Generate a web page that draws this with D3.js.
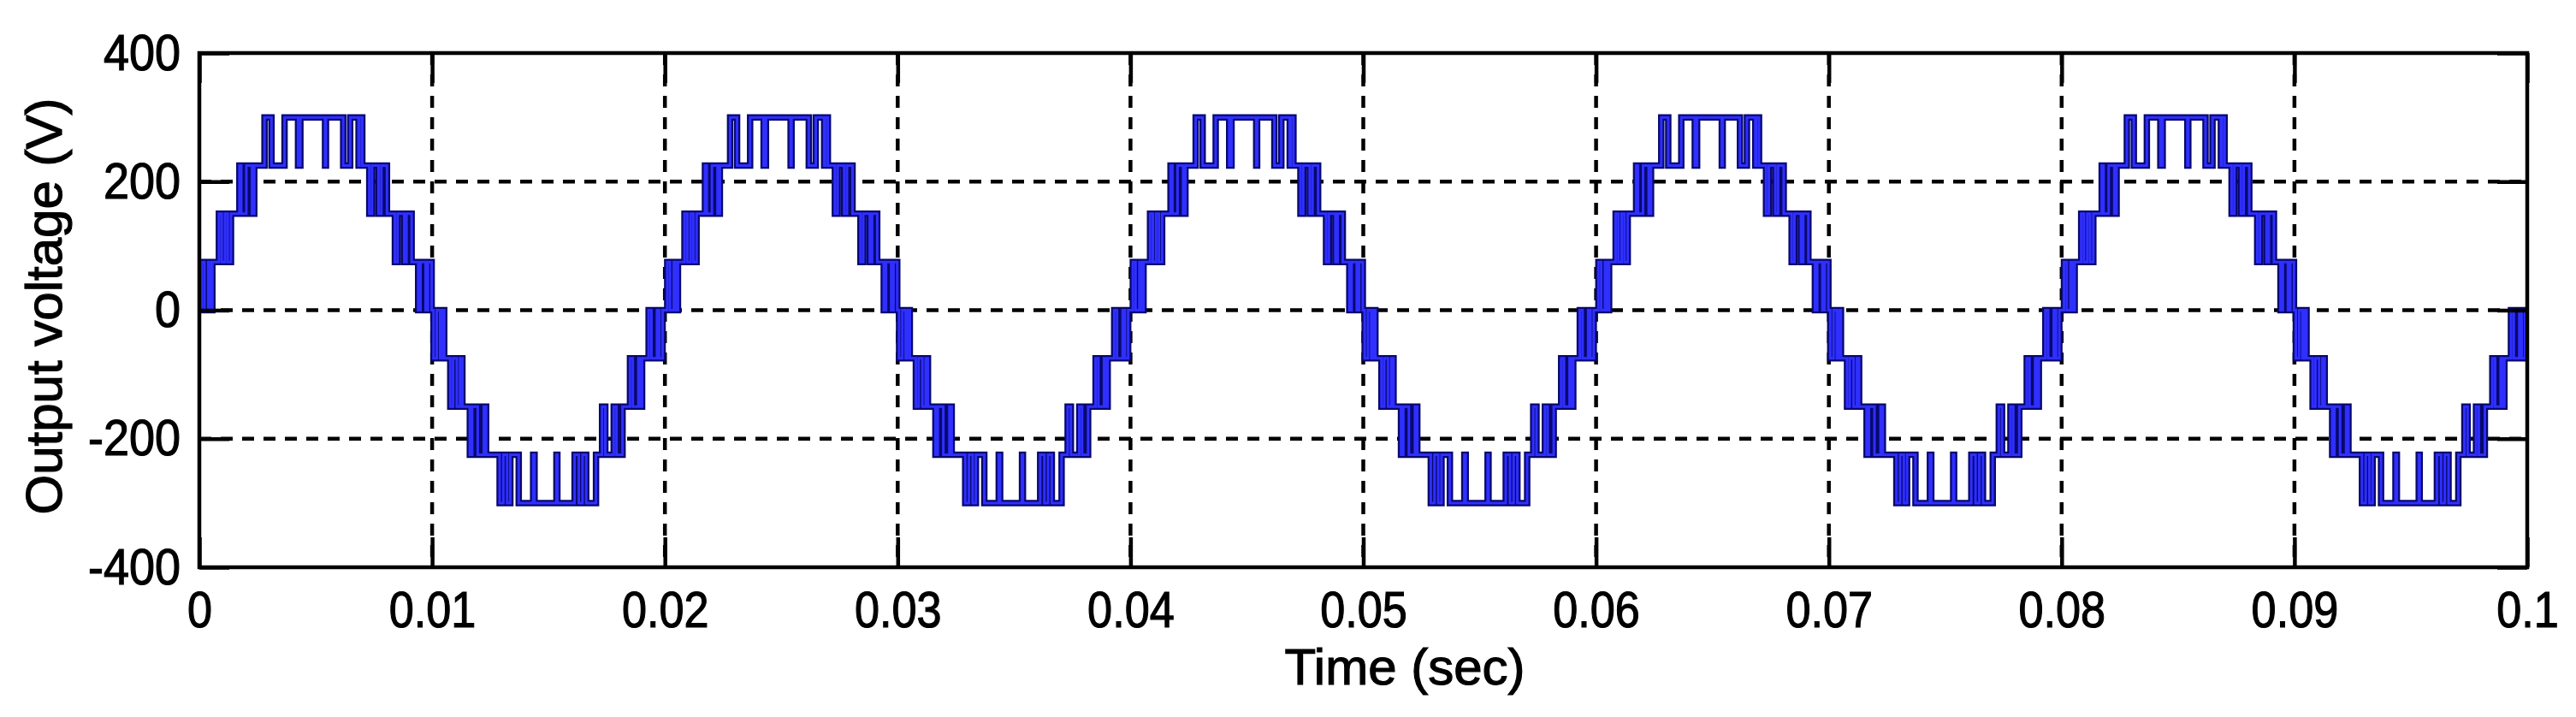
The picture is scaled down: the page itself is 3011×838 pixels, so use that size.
<!DOCTYPE html>
<html>
<head>
<meta charset="utf-8">
<script src="https://cdn.jsdelivr.net/npm/d3@7"></script>
<style>
  html, body { margin: 0; padding: 0; background: #ffffff; }
  svg { display: block; }
</style>
</head>
<body>
<svg id="chart" width="3011" height="838"></svg>
<script>
// ---------------- DATA ----------------
const xTicks = [0, 0.01, 0.02, 0.03, 0.04, 0.05, 0.06, 0.07, 0.08, 0.09, 0.1];
const xTickLabels = ["0", "0.01", "0.02", "0.03", "0.04", "0.05", "0.06", "0.07", "0.08", "0.09", "0.1"];
const yTicks = [-400, -200, 0, 200, 400];
const yTickLabels = ["-400", "-200", "0", "200", "400"];
const xTitle = "Time (sec)";
const yTitle = "Output voltage (V)";

const period = 0.02;   // one fundamental cycle (s)
const cycles = 5;

// switching instants (ms from start of positive half) and level after each edge
const posHalfTimes  = [0.00, 0.10, 0.22, 0.38, 0.48, 0.56, 0.84, 0.96, 1.10, 1.22, 1.36,
                       1.72, 1.80, 2.02, 2.26, 2.36, 2.80, 3.10, 3.66, 4.24, 4.34, 5.40,
                       5.44, 6.18, 6.48, 6.84, 6.88, 7.00, 7.30, 7.42, 7.70, 7.82, 8.06,
                       8.40, 8.52, 8.80, 8.90, 9.12, 9.40, 9.50, 9.72, 9.82, 9.98];
const posHalfLevels = [0, 75, 0, 75, 0, 75, 150, 75, 150, 75, 150,
                       225, 150, 225, 150, 225, 300, 225, 300, 225, 300, 225,
                       300, 225, 300, 225, 300, 225, 150, 225, 150, 225, 150,
                       75, 150, 75, 150, 75, 0, 75, 0, 75, 0];
// switching instants (ms from start of negative half) and level after each edge
const negHalfTimes  = [0.00, 0.06, 0.20, 0.34, 0.44, 0.52, 0.78, 0.90, 1.06, 1.20, 1.30,
                       1.62, 1.72, 1.96, 2.22, 2.32, 2.90, 3.06, 3.22, 3.36, 3.72, 4.34,
                       4.40, 5.34, 5.38, 6.12, 6.30, 6.46, 6.62, 7.04, 7.30, 7.44, 7.80,
                       7.92, 8.18, 8.50, 8.62, 8.86, 8.94, 9.02, 9.30, 9.42, 9.66, 9.76, 9.90];
const negHalfLevels = [0, -75, 0, -75, 0, -75, -150, -75, -150, -75, -150,
                       -225, -150, -225, -150, -225, -300, -225, -300, -225, -300, -225,
                       -300, -225, -300, -225, -300, -225, -300, -225, -150, -225, -150,
                       -225, -150, -75, -150, -75, -150, -75, 0, -75, 0, -75, 0];

// ---------------- LAYOUT ----------------
const svg = d3.select("#chart");
const L = 233, R = 2954, T = 62, B = 663;
const x = d3.scaleLinear().domain([0, 0.1]).range([L, R]);
const y = d3.scaleLinear().domain([-400, 400]).range([B, T]);
const FONT = "'Liberation Sans', Arial, Helvetica, sans-serif";

// waveform points (one period tiled over the record)
const pts = [];
for (let c = 0; c < cycles; c++) {
  const t0 = c * period;
  posHalfTimes.forEach((t, i) => pts.push([t0 + t / 1000, posHalfLevels[i]]));
  negHalfTimes.forEach((t, i) => pts.push([t0 + period / 2 + t / 1000, negHalfLevels[i]]));
}
pts.push([0.1, pts[pts.length - 1][1]]);

// ---------------- GRID ----------------
const grid = svg.append("g").attr("stroke", "#000").attr("stroke-width", 4.5)
  .attr("stroke-dasharray", "14 11").attr("fill", "none");
grid.selectAll("line.gx").data(xTicks.slice(1, -1)).join("line")
  .attr("x1", d => x(d)).attr("x2", d => x(d)).attr("y1", T).attr("y2", B);
grid.selectAll("line.gy").data(yTicks.slice(1, -1)).join("line")
  .attr("x1", L).attr("x2", R).attr("y1", d => y(d)).attr("y2", d => y(d));

// ---------------- WAVEFORM ----------------
const line = d3.line().x(d => x(d[0])).y(d => y(d[1])).curve(d3.curveStepAfter);
svg.append("clipPath").attr("id", "pc").append("rect")
  .attr("x", L).attr("y", T - 5).attr("width", R - L).attr("height", B - T + 10);
svg.append("path").datum(pts).attr("d", line).attr("clip-path", "url(#pc)")
  .attr("fill", "none").attr("stroke", "#08086e").attr("stroke-width", 7.5)
  .attr("stroke-linejoin", "miter");
svg.append("path").datum(pts).attr("d", line).attr("clip-path", "url(#pc)")
  .attr("fill", "none").attr("stroke", "#2f2fff").attr("stroke-width", 3);

// ---------------- AXES ----------------
function styleAxis(g) {
  g.select(".domain").remove();
  g.selectAll(".tick line").attr("stroke", "#000").attr("stroke-width", 4.5);
  g.selectAll(".tick text").attr("fill", "#000").attr("stroke", "#000").attr("stroke-width", 1.2)
    .style("font-family", FONT).style("font-size", "60px");
}
const bottom = svg.append("g").attr("transform", `translate(0,${B})`)
  .call(d3.axisBottom(x).tickValues(xTicks).tickSize(-35).tickPadding(27)
    .tickFormat((d, i) => xTickLabels[i]))
  .call(styleAxis);
bottom.selectAll(".tick text").attr("transform", "scale(0.87,1)");

const left = svg.append("g").attr("transform", `translate(${L},0)`)
  .call(d3.axisLeft(y).tickValues(yTicks).tickSize(-35).tickPadding(22)
    .tickFormat((d, i) => yTickLabels[i]))
  .call(styleAxis);
left.selectAll(".tick text").attr("transform", "scale(0.9,1)").attr("x", -22 / 0.9);

svg.append("g").attr("transform", `translate(0,${T})`)
  .call(d3.axisTop(x).tickValues(xTicks).tickSize(-35).tickFormat(""))
  .call(styleAxis);
svg.append("g").attr("transform", `translate(${R},0)`)
  .call(d3.axisRight(y).tickValues(yTicks).tickSize(-35).tickFormat(""))
  .call(styleAxis);

// frame
svg.append("rect").attr("x", L).attr("y", T).attr("width", R - L).attr("height", B - T)
  .attr("fill", "none").attr("stroke", "#000").attr("stroke-width", 4.5);

// ---------------- TITLES ----------------
svg.append("text").attr("x", 1642).attr("y", 800).attr("text-anchor", "middle")
  .attr("stroke", "#000").attr("stroke-width", 1.2)
  .style("font-family", FONT).style("font-size", "60px").attr("fill", "#000").text(xTitle);
svg.append("text").attr("transform", "translate(72,358) rotate(-90)").attr("text-anchor", "middle")
  .attr("stroke", "#000").attr("stroke-width", 1.2)
  .style("font-family", FONT).style("font-size", "60px").attr("fill", "#000").text(yTitle);
</script>
</body>
</html>
